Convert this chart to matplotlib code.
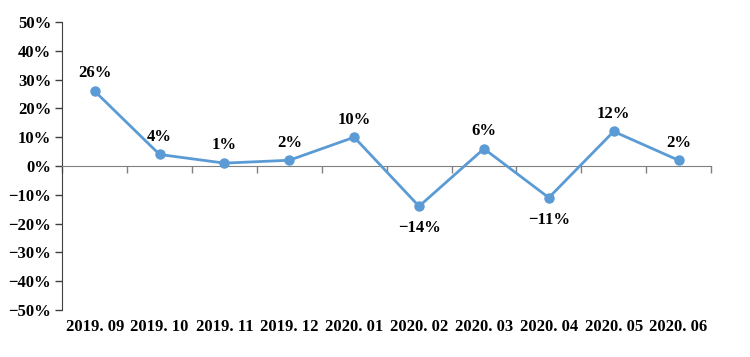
import matplotlib
matplotlib.use('Agg')
import matplotlib.pyplot as plt
from matplotlib.ticker import FixedLocator, FuncFormatter
import matplotlib.transforms as mtrans

months = ['2019.09', '2019.10', '2019.11', '2019.12', '2020.01',
          '2020.02', '2020.03', '2020.04', '2020.05', '2020.06']
growth = [26, 4, 1, 2, 10, -14, 6, -11, 12, 2]

font = {'family': 'Liberation Serif', 'size': 12, 'weight': 'bold'}

fig = plt.figure(figsize=(7.5, 3.57), dpi=100)
ax = fig.add_axes([0.083, 0.132, 0.865, 0.806])

xs = list(range(len(months)))
ax.plot(xs, growth, color='#5B9BD5', linewidth=2, marker='o', markersize=6.5, zorder=3)

for x, v in zip(xs, growth):
    if v < 0:
        ax.annotate(f'{v}%'.replace('-', '\u2212'), (x, v), xytext=(0, -10), textcoords='offset points',
                    ha='center', va='top', **font)
    else:
        ax.annotate(f'{v}%', (x, v), xytext=(0, 7), textcoords='offset points',
                    ha='center', va='bottom', **font)

ax.set_xlim(-0.5, len(months) - 0.5)
ax.set_ylim(-50, 50)
ax.set_yticks(range(-50, 51, 10))
ax.yaxis.set_major_formatter(FuncFormatter(lambda v, p: f'{int(v)}%'.replace('-', '\u2212')))
for lab in ax.get_yticklabels():
    lab.set_fontfamily('Liberation Serif')
    lab.set_fontsize(12)
    lab.set_fontweight('bold')
ax.tick_params(axis='y', direction='out', length=5, width=1, color='#404040', pad=3)

# x axis line at zero with ticks between categories
ax.spines['bottom'].set_position(('data', 0))
ax.spines['bottom'].set_color('#808080')
ax.spines['left'].set_color('#404040')
ax.spines['top'].set_visible(False)
ax.spines['right'].set_visible(False)
ax.xaxis.set_major_locator(FixedLocator([i + 0.5 for i in range(-1, len(months))]))
ax.set_xticklabels([])
ax.tick_params(axis='x', direction='out', length=5, width=1, color='#808080')

trans = mtrans.blended_transform_factory(ax.transData, ax.transAxes)
for x, m in zip(xs, months):
    ax.text(x, -0.06, m.replace('.', '. '), transform=trans, ha='center', va='center', **font)

fig.savefig('out.png', dpi=100)
plt.close()
